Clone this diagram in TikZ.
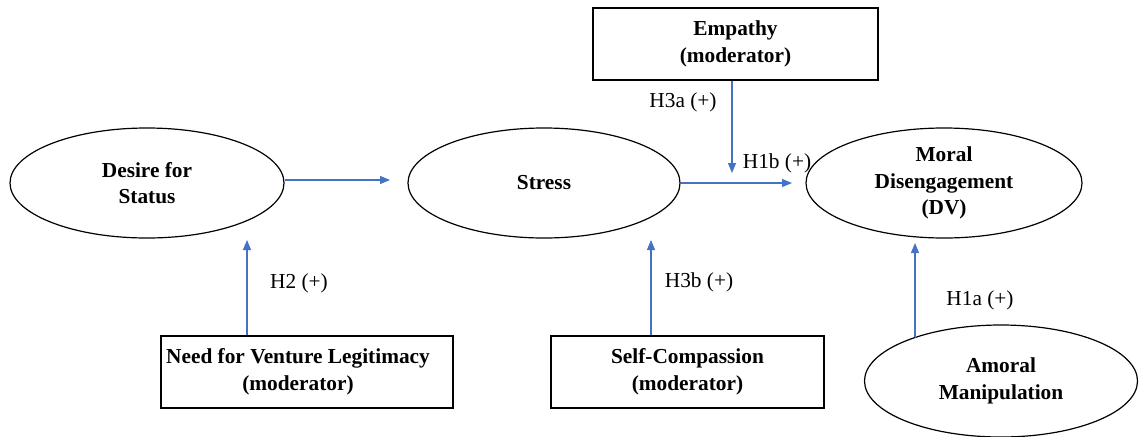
\documentclass[tikz,border=0pt]{standalone}
\usepackage{fontspec}
\setmainfont{Liberation Serif}
\usetikzlibrary{shapes.geometric,arrows.meta}
\definecolor{arrblue}{HTML}{4472C4}
\begin{document}
\begin{tikzpicture}[x=0.75pt,y=-0.75pt,
  oval/.style={ellipse,draw=black,line width=0.9pt,inner sep=0pt,
    minimum width={#1*0.75pt},minimum height={110*0.75pt},align=center,
    font=\bfseries\fontsize{16}{20}\selectfont},
  modbox/.style={rectangle,draw=black,line width=1.1pt,inner sep=0pt,
    minimum height={72*0.75pt},align=center,
    font=\bfseries\fontsize{16}{20}\selectfont},
  btext/.style={align=center,inner sep=0pt,font=\bfseries\fontsize{16}{20}\selectfont},
  hlab/.style={inner sep=0pt,font=\fontsize{16}{19}\selectfont},
  link/.style={draw=arrblue,line width=0.8pt,-{Triangle[length=7.5pt,width=6pt]}}]
\useasboundingbox (0,0) rectangle (1141,436);

% ellipses
\node[oval=274] (ds) at (147,183) {Desire for\\Status};
\node[oval=272] (st) at (544,183) {Stress};
\node[oval=276] (md) at (944,183) {Moral\\Disengagement\\(DV)};
\node[oval=273,minimum height={112*0.75pt}] (am) at (1001,381) {Amoral\\Manipulation};

% boxes
\node[modbox,minimum width={285*0.75pt}] (emp) at (735.5,44) {Empathy\\(moderator)};
\node[modbox,minimum width={292*0.75pt}] (nvl) at (307,372) {};
\node[btext] (nvltext) at (298,372) {Need for Venture Legitimacy\\(moderator)};
\node[modbox,minimum width={273*0.75pt}] (sc) at (687.5,372) {Self-Compassion\\(moderator)};

% free ends
\coordinate (dsend) at (390,180);
\coordinate (stend) at (792,183);
\coordinate (empend) at (732,173);
\coordinate (nvlend) at (247,240);
\coordinate (scend) at (651,240);
\coordinate (amend) at (915,243);

% connectors
\draw[link] (ds.east |- dsend) -- (dsend);
\draw[link] (st.east |- stend) -- (stend);
\draw[link] (emp.south -| empend) -- (empend);
\draw[link] (nvl.north -| nvlend) -- (nvlend);
\draw[link] (sc.north -| scend) -- (scend);
\draw[link] (am.153.2) -- (amend |- am.153.2) -- (amend);

% labels
\node[hlab] (l3a) at (683,102) {H3a (+)};
\node[hlab] (l1b) at (777,163) {H1b (+)};
\node[hlab] (l2) at (299,283) {H2 (+)};
\node[hlab] (l3b) at (699,282) {H3b (+)};
\node[hlab] (l1a) at (980,300) {H1a (+)};
\end{tikzpicture}
\end{document}
